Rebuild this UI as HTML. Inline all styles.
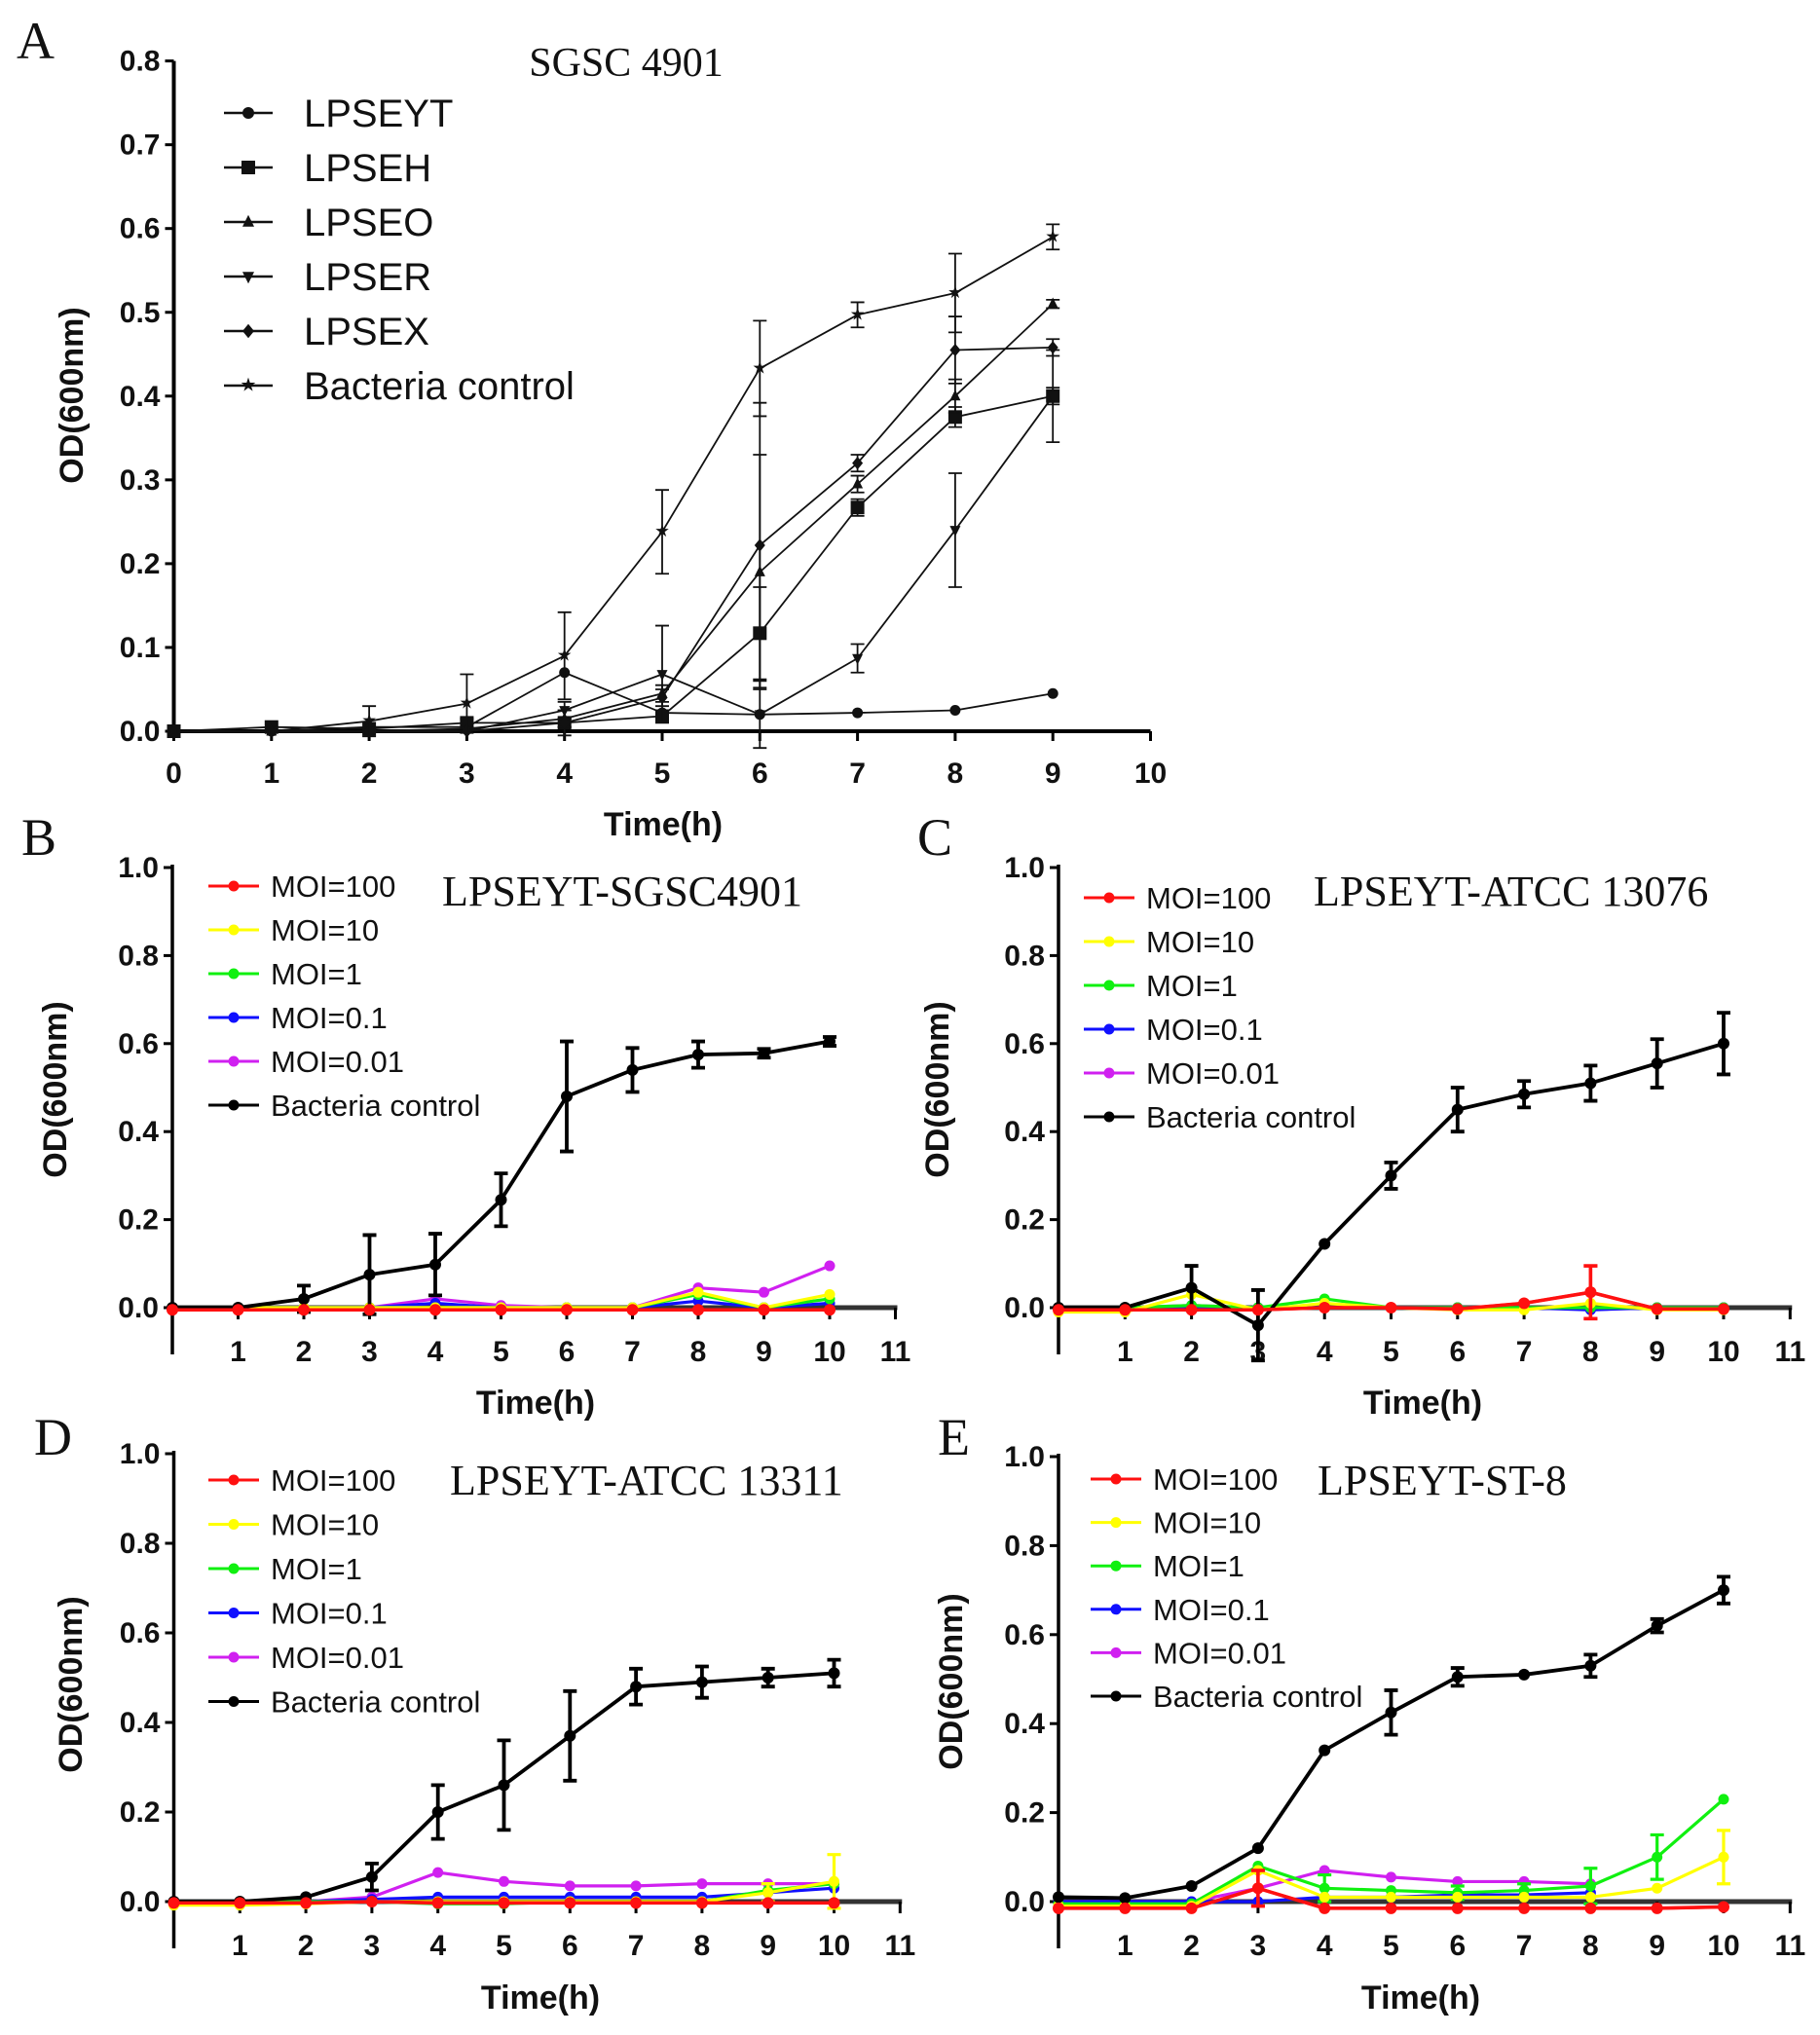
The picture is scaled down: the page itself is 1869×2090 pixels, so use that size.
<!DOCTYPE html>
<html><head><meta charset="utf-8">
<style>
html,body{margin:0;padding:0;background:#fff;}
svg{display:block;}
.tk{font-family:"Liberation Sans",Arial,sans-serif;font-weight:bold;font-size:30px;fill:#111;}
.lg{font-family:"Liberation Sans",Arial,sans-serif;font-size:31px;fill:#111;}
.lgA{font-family:"Liberation Sans",Arial,sans-serif;font-size:40px;fill:#111;}
.ttl{font-family:"Liberation Serif","Times New Roman",serif;font-size:44px;fill:#111;}
.ttlA{font-family:"Liberation Serif","Times New Roman",serif;font-size:42px;fill:#111;}
.pl{font-family:"Liberation Serif","Times New Roman",serif;font-size:54px;fill:#111;}
.ax{font-family:"Liberation Sans",Arial,sans-serif;font-weight:bold;font-size:34px;fill:#111;}
</style></head>
<body>
<svg id="fig" width="1869" height="2090" viewBox="0 0 1869 2090" xmlns="http://www.w3.org/2000/svg"></svg>
<script>
// ---------- Panel A data (x = 0..9 h) ----------
const aTimes=[0,1,2,3,4,5,6,7,8,9];
const aNames=["LPSEYT","LPSEH","LPSEO","LPSER","LPSEX","Bacteria control"];
const aLPSEYT=[0,0,0.005,0.005,0.07,0.022,0.02,0.022,0.025,0.045];
const aLPSEH=[0,0.005,0.003,0.01,0.01,0.018,0.117,0.267,0.375,0.4];
const aLPSEO=[0,0,0,0.003,0.015,0.045,0.19,0.295,0.4,0.51];
const aLPSER=[0,0,0,0,0.025,0.068,0.02,0.087,0.24,0.4];
const aLPSEX=[0,0,0,0,0.01,0.04,0.222,0.32,0.455,0.458];
const aControl=[0,0,0.012,0.033,0.09,0.238,0.433,0.497,0.523,0.59];
const aErrH=[0,0,0,0.005,0.005,0.005,0.055,0.01,0.012,0.055];
const aErrO=[0,0,0,0,0.01,0.01,0.14,0.01,0.02,0.005];
const aErrR=[0,0,0,0,0.01,0.058,0.04,0.017,0.068,0.01];
const aErrX=[0,0,0,0,0.015,0.01,0.17,0.01,0.04,0.01];
const aErrC=[0,0,0.018,0.035,0.052,0.05,0.057,0.015,0.047,0.015];
const aTicksY=["0.0","0.1","0.2","0.3","0.4","0.5","0.6","0.7","0.8"];
// ---------- Panels B-E data (x = 0..10 h) ----------
const bTimes=[0,1,2,3,4,5,6,7,8,9,10];
const moiNames=["MOI=100","MOI=10","MOI=1","MOI=0.1","MOI=0.01","Bacteria control"];
const moiColors=["#ff1010","#ffff00","#10f010","#1010ff","#d020f0","#000000"];
const bRed=[-0.005,-0.005,-0.005,-0.005,-0.005,-0.005,-0.005,-0.005,-0.005,-0.005,-0.005];
const bYellow=[0,0,0,0,0,0,0,0,0.035,0,0.03];
const bGreen=[0,0,0,0,0,0,0,0,0.03,0,0.02];
const bBlue=[0,0,0,0,0.01,0,0,0,0.015,0,0.01];
const bMagenta=[0,0,0,0,0.02,0.005,0,0,0.045,0.035,0.095];
const bControl=[0,0,0.02,0.075,0.098,0.245,0.48,0.54,0.575,0.578,0.605];
const bErr=[0,0,0.03,0.09,0.07,0.06,0.125,0.05,0.03,0.01,0.01];
const cRed=[-0.005,-0.005,-0.005,-0.005,0,0,-0.003,0.01,0.035,-0.003,-0.003];
const cRedErr=[0,0,0,0,0,0,0,0,0.06,0,0];
const cYellow=[-0.01,-0.01,0.03,-0.005,0.01,0,-0.005,-0.005,0.01,-0.005,-0.005];
const cGreen=[0,0,0.005,0,0.02,0,0,0,0,0,0];
const cBlue=[0,0,0,0,0,0,0,0,-0.005,0,0];
const cMagenta=[0,0,0.005,0,0,0,0,0,0,0,0];
const cControl=[0,0,0.045,-0.04,0.145,0.3,0.45,0.485,0.51,0.555,0.6];
const cErr=[0,0,0.05,0.08,0,0.03,0.05,0.03,0.04,0.055,0.07];
const dRed=[-0.003,-0.003,-0.003,0,-0.003,-0.003,-0.003,-0.003,-0.003,-0.003,-0.003];
const dYellow=[-0.008,-0.008,-0.005,0,0,0,0,0,0,0.02,0.045];
const dYellowErr=[0,0,0,0,0,0,0,0,0,0.02,0.06];
const dGreen=[0,0,0,0,-0.005,-0.005,0,0,0,0.025,0.04];
const dBlue=[0,0,0,0.005,0.01,0.01,0.01,0.01,0.01,0.02,0.03];
const dMagenta=[0,0,0,0.01,0.065,0.045,0.035,0.035,0.04,0.04,0.04];
const dControl=[0,0,0.01,0.055,0.2,0.26,0.37,0.48,0.49,0.5,0.51];
const dErr=[0,0,0,0.03,0.06,0.1,0.1,0.04,0.035,0.02,0.03];
const eRed=[-0.015,-0.015,-0.015,0.03,-0.015,-0.015,-0.015,-0.015,-0.015,-0.015,-0.012];
const eRedErr=[0,0,0,0.04,0,0,0,0,0,0,0];
const eYellow=[-0.01,-0.01,-0.01,0.07,0.01,0.01,0.01,0.01,0.01,0.03,0.1];
const eYellowErr=[0,0,0,0,0,0,0,0,0,0,0.06];
const eGreen=[-0.005,-0.005,-0.005,0.08,0.03,0.025,0.02,0.025,0.035,0.1,0.23];
const eGreenErr=[0,0,0,0,0.03,0,0.015,0.015,0.04,0.05,0];
const eBlue=[0,0,0,0,0.01,0.01,0.015,0.015,0.02,null,null];
const eMagenta=[0,0,0,0.03,0.07,0.055,0.045,0.045,0.04,null,null];
const eControl=[0.01,0.008,0.035,0.12,0.34,0.425,0.505,0.51,0.53,0.62,0.7];
const eErr=[0,0,0,0,0,0.05,0.02,0,0.025,0.015,0.03];
const bTicksY=["0.0","0.2","0.4","0.6","0.8","1.0"];
const bTicksX=["1","2","3","4","5","6","7","8","9","10","11"];

const NS="http://www.w3.org/2000/svg";
const svg=document.getElementById('fig');
function mk(tag,attrs,parent,text){const e=document.createElementNS(NS,tag);for(const k in attrs)e.setAttribute(k,attrs[k]);if(text!==undefined)e.textContent=text;(parent||svg).appendChild(e);return e;}

function marker(g,shape,x,y,s,color){
  let e;
  if(shape==='circle') e=mk('circle',{cx:x,cy:y,r:s,fill:color},g);
  else if(shape==='square') e=mk('rect',{x:x-s,y:y-s,width:2*s,height:2*s,fill:color},g);
  else if(shape==='tri') e=mk('polygon',{points:`${x},${y-s*1.2} ${x-s},${y+s*0.8} ${x+s},${y+s*0.8}`,fill:color},g);
  else if(shape==='dtri') e=mk('polygon',{points:`${x},${y+s*1.2} ${x-s},${y-s*0.8} ${x+s},${y-s*0.8}`,fill:color},g);
  else if(shape==='diamond') e=mk('polygon',{points:`${x},${y-s*1.2} ${x+s},${y} ${x},${y+s*1.2} ${x-s},${y}`,fill:color},g);
  else e=mk('text',{x:x,y:y+s*0.9,'text-anchor':'middle','font-size':s*3.2,fill:color,'font-family':'DejaVu Sans'},g,'★');
  
  
}

function drawSeries(g,xs,ys,errs,sx,sy,color,lw,shape,ms,name){
  const sg=mk('g',{},g);
  
  
  let d='';let started=false;
  xs.forEach((t,i)=>{const v=ys[i];if(v===null||v===undefined){return;}d+=(started?'L':'M')+sx(t)+','+sy(v)+' ';started=true;});
  const p=mk('path',{d:d,fill:'none',stroke:color,'stroke-width':lw,'stroke-linejoin':'round'},sg);
  
  
  if(errs){xs.forEach((t,i)=>{const v=ys[i],e=errs[i];if(v===null||!e)return;
    const x=sx(t);const eb=mk('path',{d:`M${x},${sy(v-e)}L${x},${sy(v+e)}M${x-7},${sy(v+e)}L${x+7},${sy(v+e)}M${x-7},${sy(v-e)}L${x+7},${sy(v-e)}`,stroke:color,'stroke-width':lw,fill:'none'},sg);
    
    });}
  xs.forEach((t,i)=>{const v=ys[i];if(v===null||v===undefined)return;marker(sg,shape,sx(t),sy(v),ms,color);});
}

// ---------- Panel A ----------
(function(){
  const g=mk('g',{});
  
  
  const x0=178.5,xs=100.3,y0=751,ys=(751-62.6)/0.8;
  const sx=t=>x0+t*xs, sy=v=>y0-v*ys;
  const t1=mk('text',{x:17,y:60,class:'pl'},g,'A');
  const t2=mk('text',{x:643,y:78,class:'ttlA','text-anchor':'middle'},g,'SGSC 4901');
  const ax=mk('path',{d:`M${x0},${sy(0.8)}L${x0},${y0}L${sx(10)},${y0}`,stroke:'#000','stroke-width':4,fill:'none'},g);
  
  aTicksY.forEach((lab,i)=>{const v=i*0.1;mk('line',{x1:x0-9,x2:x0,y1:sy(v),y2:sy(v),stroke:'#000','stroke-width':3},g);
    const t=mk('text',{x:x0-14,y:sy(v)+10,class:'tk','text-anchor':'end'},g,lab);});
  for(let i=0;i<=10;i++){mk('line',{x1:sx(i),x2:sx(i),y1:y0,y2:y0+10,stroke:'#000','stroke-width':3},g);
    const t=mk('text',{x:sx(i),y:804,class:'tk','text-anchor':'middle'},g,String(i));}
  const xt=mk('text',{x:681,y:858,class:'ax','text-anchor':'middle'},g,'Time(h)');
  const yt=mk('text',{x:0,y:0,class:'ax','text-anchor':'middle',transform:'translate(85,406) rotate(-90)'},g,'OD(600nm)');
  const shapes=['circle','square','tri','dtri','diamond','star'];
  const series=[aLPSEYT,aLPSEH,aLPSEO,aLPSER,aLPSEX,aControl];
  const errs=[null,aErrH,aErrO,aErrR,aErrX,aErrC];
  series.forEach((s,k)=>drawSeries(g,aTimes,s,errs[k],sx,sy,'#111',1.8,shapes[k],k==1?7:5.5,'series-'+aNames[k].toLowerCase().replace(' ','-')));
  const lg=mk('g',{},g);
  aNames.forEach((n,k)=>{const y=116+k*56;const le=mk('g',{},lg);
    mk('line',{x1:230,x2:280,y1:y,y2:y,stroke:'#111','stroke-width':2.5},le);marker(le,shapes[k],255,y,k==1?7:6,'#111');
    mk('text',{x:312,y:y+14,class:'lgA'},le,n);});
})();

// ---------- Panels B-E ----------
const panels=[
 {id:'b',label:'B',lx:22,ly:878,x0:177,xs:67.5,y0:1343,y1:891,title:'LPSEYT-SGSC4901',tx:454,ty:930,lgx:240,lgy:910,lgd:45,xtx:550,xty:1452,ytx:68,yty:1119,tky:1398,
  data:[bRed,bYellow,bGreen,bBlue,bMagenta,bControl],errs:[null,null,null,null,null,bErr]},
 {id:'c',label:'C',lx:942,ly:878,x0:1087,xs:68.3,y0:1343,y1:891,title:'LPSEYT-ATCC 13076',tx:1349,ty:930,lgx:1139,lgy:922,lgd:45,xtx:1461,xty:1452,ytx:974,yty:1119,tky:1398,
  data:[cRed,cYellow,cGreen,cBlue,cMagenta,cControl],errs:[cRedErr,null,null,null,null,cErr]},
 {id:'d',label:'D',lx:35,ly:1494,x0:178.5,xs:67.8,y0:1953,y1:1493,title:'LPSEYT-ATCC 13311',tx:462,ty:1535,lgx:240,lgy:1520,lgd:45.5,xtx:555,xty:2063,ytx:84,yty:1730,tky:2008,
  data:[dRed,dYellow,dGreen,dBlue,dMagenta,dControl],errs:[null,dYellowErr,null,null,null,dErr]},
 {id:'e',label:'E',lx:963,ly:1494,x0:1087,xs:68.3,y0:1953,y1:1496,title:'LPSEYT-ST-8',tx:1353,ty:1535,lgx:1146,lgy:1519,lgd:44.6,xtx:1459,xty:2063,ytx:988,yty:1727,tky:2008,
  data:[eRed,eYellow,eGreen,eBlue,eMagenta,eControl],errs:[eRedErr,eYellowErr,eGreenErr,null,null,eErr]}
];
panels.forEach(P=>{
  const g=mk('g',{});
  
  
  const sx=t=>P.x0+t*P.xs, sy=v=>P.y0-v*(P.y0-P.y1);
  const pl=mk('text',{x:P.lx,y:P.ly,class:'pl'},g,P.label);
  const tt=mk('text',{x:P.tx,y:P.ty,class:'ttl'},g,P.title);
  const ya=mk('line',{x1:P.x0,x2:P.x0,y1:P.y1-3,y2:P.y0+48,stroke:'#000','stroke-width':3.5},g);
  const xa=mk('line',{x1:P.x0,x2:sx(11)+2,y1:P.y0,y2:P.y0,stroke:'#333','stroke-width':5},g);
  bTicksY.forEach((lab,i)=>{const v=i*0.2;mk('line',{x1:P.x0-9,x2:P.x0,y1:sy(v),y2:sy(v),stroke:'#000','stroke-width':3},g);
    const t=mk('text',{x:P.x0-14,y:sy(v)+10,class:'tk','text-anchor':'end'},g,lab);});
  bTicksX.forEach((lab,i)=>{const x=sx(i+1);mk('line',{x1:x,x2:x,y1:P.y0,y2:P.y0+12,stroke:'#000','stroke-width':3},g);
    const t=mk('text',{x:x,y:P.tky,class:'tk','text-anchor':'middle'},g,lab);});
  const xt=mk('text',{x:P.xtx,y:P.xty,class:'ax','text-anchor':'middle'},g,'Time(h)');
  const yt=mk('text',{x:0,y:0,class:'ax','text-anchor':'middle',transform:`translate(${P.ytx},${P.yty}) rotate(-90)`},g,'OD(600nm)');
  const order=[4,3,2,1,0,5];
  order.forEach(k=>{if(k==5)return;drawSeries(g,bTimes,P.data[k],P.errs[k],sx,sy,moiColors[k],3.2,'circle',5.5,'series-'+moiNames[k].toLowerCase().replace('=','-'));});
  drawSeries(g,bTimes,P.data[5],P.errs[5],sx,sy,'#000',3.8,'circle',6,'series-bacteria-control');
  drawSeries(g,bTimes,P.data[0],P.errs[0],sx,sy,moiColors[0],3.6,'circle',6,'series-moi-100-top');
  const lg=mk('g',{},g);
  moiNames.forEach((n,k)=>{const y=P.lgy+k*P.lgd;const le=mk('g',{},lg);
    mk('line',{x1:P.lgx-26,x2:P.lgx+26,y1:y,y2:y,stroke:moiColors[k],'stroke-width':3},le);marker(le,'circle',P.lgx,y,5.5,moiColors[k]);
    mk('text',{x:P.lgx+38,y:y+11,class:'lg'},le,n);});
});
</script>
</body></html>
